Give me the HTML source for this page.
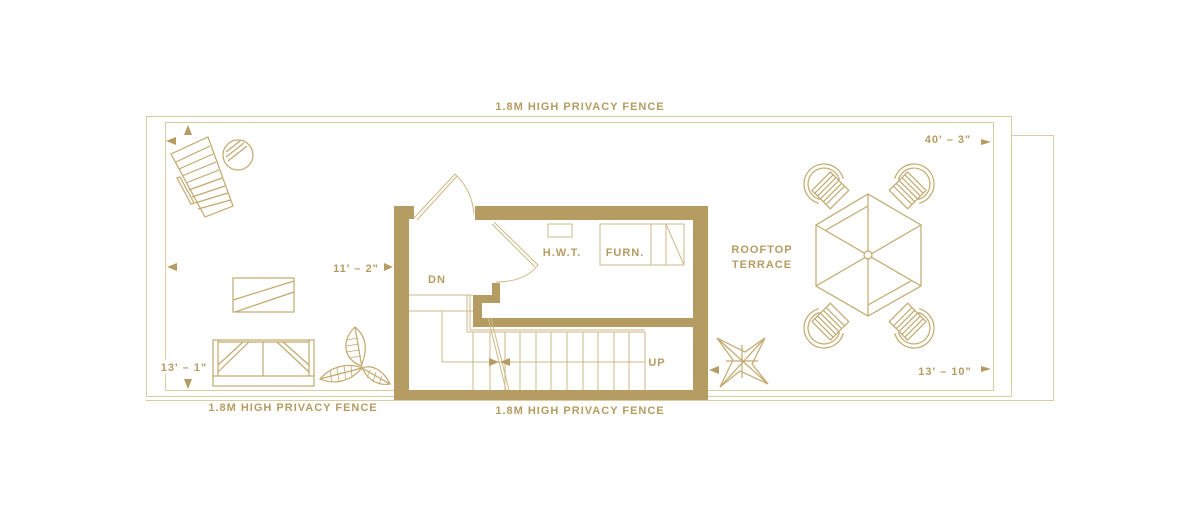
<!DOCTYPE html>
<html><head><style>
html,body{margin:0;padding:0;background:#fff;}
svg{display:block;}
text{font-family:"Liberation Sans",sans-serif;font-weight:bold;fill:#b59c62;font-size:11px;letter-spacing:1px;}
</style></head><body>
<svg width="1200" height="515" viewBox="0 0 1200 515" xmlns="http://www.w3.org/2000/svg">
<defs>
<g id="chair" fill="none" stroke="#c2a96e" stroke-width="1.2">
<path d="M10,-17.3 A20,20 0 1 0 10,17.3"/>
<path d="M8,-13.9 A16,16 0 1 0 8,13.9"/>
<rect x="-4" y="-13" width="26" height="26" fill="#fff"/>
<line x1="0" y1="-13" x2="0" y2="13"/><line x1="4" y1="-13" x2="4" y2="13"/>
<line x1="8" y1="-13" x2="8" y2="13"/><line x1="12" y1="-13" x2="12" y2="13"/>
<line x1="16" y1="-13" x2="16" y2="13"/>
</g>
</defs>
<g fill="none" stroke="#d9cba5" stroke-width="1">
<rect x="146.5" y="116.5" width="865" height="280"/>
<rect x="165.5" y="122.5" width="828" height="268"/>
<polyline points="1012,135.5 1053.5,135.5 1053.5,400.5 1012,400.5"/>
<line x1="146" y1="400.5" x2="1012" y2="400.5"/>
</g>
<g fill="#b59c62">
<rect x="394" y="206" width="15" height="194"/>
<rect x="394" y="206" width="20" height="13"/>
<rect x="475" y="206" width="233" height="14"/>
<rect x="693" y="206" width="15" height="194"/>
<rect x="394" y="390" width="314" height="10"/>
<rect x="473" y="318" width="220" height="9"/>
<rect x="473" y="295" width="9" height="32"/>
<rect x="473" y="295" width="27" height="8"/>
<rect x="492" y="283" width="8" height="20"/>
</g>
<g fill="none" stroke="#cdb987" stroke-width="1">
<line x1="414" y1="218" x2="455" y2="174"/><line x1="417" y1="220" x2="457" y2="176"/>
<path d="M455,174 Q472,190 474,214"/>
<line x1="494" y1="222" x2="538" y2="265"/><line x1="492" y1="224" x2="535" y2="267"/>
<path d="M538,265 Q525,282 496,282"/>
<rect x="548" y="224" width="24" height="13"/>
<rect x="600" y="224" width="84" height="41"/>
<line x1="651" y1="224" x2="651" y2="265"/><line x1="666" y1="224" x2="666" y2="265"/>
<line x1="666" y1="224" x2="684" y2="265"/>
<line x1="409" y1="295" x2="473" y2="295"/>
<line x1="409" y1="311" x2="473" y2="311"/>
<line x1="467" y1="295" x2="467" y2="332"/><line x1="470" y1="295" x2="470" y2="330"/>
<line x1="467" y1="332" x2="645" y2="332"/><line x1="470" y1="330" x2="645" y2="330"/>
<line x1="442" y1="311" x2="442" y2="362"/>
<line x1="442" y1="362" x2="645" y2="362"/>
<line x1="473" y1="332" x2="473" y2="390"/><line x1="490" y1="332" x2="490" y2="390"/>
<line x1="505" y1="332" x2="505" y2="390"/><line x1="520" y1="332" x2="520" y2="390"/>
<line x1="536" y1="332" x2="536" y2="390"/><line x1="551" y1="332" x2="551" y2="390"/>
<line x1="567" y1="332" x2="567" y2="390"/><line x1="583" y1="332" x2="583" y2="390"/>
<line x1="598" y1="332" x2="598" y2="390"/><line x1="614" y1="332" x2="614" y2="390"/>
<line x1="629" y1="332" x2="629" y2="390"/><line x1="645" y1="332" x2="645" y2="390"/>
<line x1="488" y1="318" x2="506" y2="390"/><line x1="491" y1="318" x2="509" y2="390"/>
</g>
<g fill="#b59c62">
<polygon points="489,358 499,362 489,366"/><polygon points="510,358 500,362 510,366"/>
<polygon points="166,141 176,137 176,145"/>
<polygon points="188,125 184,135 192,135"/>
<polygon points="167,267 177,263 177,271"/>
<polygon points="384,263 393,267 384,271"/>
<polygon points="188,389 184,379 192,379"/>
<polygon points="981,139 991,142 981,145"/>
<polygon points="981,366 991,369 981,372"/>
<polygon points="709,370 719,366 719,374"/>
</g>
<g fill="none" stroke="#c2a96e" stroke-width="1.2">
<polygon points="171,154 208,137 233,206 205,217"/>
<line x1="176" y1="162" x2="210" y2="146"/><line x1="179" y1="169" x2="213" y2="154"/>
<line x1="182" y1="176" x2="216" y2="162"/><line x1="186" y1="183" x2="219" y2="170"/>
<line x1="189" y1="190" x2="222" y2="178"/><line x1="192" y1="197" x2="225" y2="186"/>
<line x1="195" y1="203" x2="228" y2="193"/><line x1="198" y1="209" x2="231" y2="200"/>
<polygon points="177,178 180,177 194,203 191,204"/>
<circle cx="238" cy="155" r="15"/>
<line x1="226" y1="152" x2="240" y2="141"/><line x1="226" y1="157" x2="244" y2="143"/><line x1="228" y1="161" x2="247" y2="146"/>
<rect x="233" y="278" width="61" height="34"/>
<line x1="233" y1="300" x2="294" y2="281"/><line x1="235" y1="312" x2="294" y2="292"/>
<rect x="213" y="340" width="101" height="46"/>
<line x1="218" y1="340" x2="218" y2="376"/><line x1="309" y1="340" x2="309" y2="376"/>
<line x1="213" y1="376" x2="314" y2="376"/><line x1="263" y1="342" x2="263" y2="376"/>
<line x1="218" y1="342" x2="309" y2="342"/>
<line x1="218" y1="365" x2="243" y2="342"/><line x1="218" y1="372" x2="249" y2="342"/>
<line x1="309" y1="365" x2="283" y2="342"/><line x1="309" y1="372" x2="277" y2="342"/>
<path d="M355,327 C342,340 342,358 361,366 C368,350 367,337 355,327Z"/>
<path d="M320,379 C332,365 350,363 362,368 C350,382 334,385 320,379Z"/>
<path d="M390,384 C383,370 372,364 362,368 C368,380 378,386 390,384Z"/>
<line x1="355" y1="327" x2="362" y2="368"/><line x1="320" y1="379" x2="362" y2="368"/><line x1="362" y1="368" x2="390" y2="384"/>
<g stroke-width="0.8">
<line x1="347" y1="340" x2="358" y2="338"/><line x1="346" y1="346" x2="359" y2="344"/><line x1="346" y1="352" x2="360" y2="350"/><line x1="349" y1="358" x2="361" y2="356"/>
<line x1="330" y1="370" x2="332" y2="382"/><line x1="337" y1="368" x2="339" y2="382"/><line x1="344" y1="366" x2="346" y2="380"/><line x1="351" y1="365" x2="352" y2="377"/>
<line x1="370" y1="370" x2="367" y2="378"/><line x1="376" y1="372" x2="373" y2="382"/><line x1="382" y1="376" x2="379" y2="384"/>
</g>
<polygon points="868,194 921,225 921,286 868,316 816,286 816,225"/>
<line x1="868" y1="194" x2="868" y2="316"/>
<line x1="816" y1="225" x2="921" y2="286"/><line x1="921" y1="225" x2="816" y2="286"/>
<line x1="826" y1="230" x2="868" y2="206"/><line x1="911" y1="281" x2="868" y2="305"/>
<circle cx="868" cy="255" r="4" fill="#fff"/>
<polygon points="717,338 745,352 765,338 752,364 768,384 740,371 720,387 733,360"/>
<line x1="717" y1="338" x2="768" y2="384"/><line x1="765" y1="338" x2="720" y2="387"/>
<line x1="742" y1="345" x2="742" y2="378"/><line x1="726" y1="361" x2="758" y2="361"/>
</g>
<use href="#chair" transform="translate(824,184) rotate(45)"/>
<use href="#chair" transform="translate(914,184) rotate(135)"/>
<use href="#chair" transform="translate(824,328) rotate(-45)"/>
<use href="#chair" transform="translate(914,328) rotate(-135)"/>
<text x="580" y="110" text-anchor="middle">1.8M HIGH PRIVACY FENCE</text>
<text x="580" y="414" text-anchor="middle">1.8M HIGH PRIVACY FENCE</text>
<text x="293" y="411" text-anchor="middle">1.8M HIGH PRIVACY FENCE</text>
<text x="356" y="272" text-anchor="middle">11' – 2"</text>
<rect x="158" y="360" width="50" height="14" fill="#fff"/>
<text x="184" y="371" text-anchor="middle">13' – 1"</text>
<text x="948" y="143" text-anchor="middle">40' – 3"</text>
<text x="945" y="375" text-anchor="middle">13' – 10"</text>
<text x="437" y="283" text-anchor="middle">DN</text>
<text x="562" y="256" text-anchor="middle">H.W.T.</text>
<text x="625" y="256" text-anchor="middle">FURN.</text>
<text x="657" y="366" text-anchor="middle">UP</text>
<text x="762" y="253" text-anchor="middle">ROOFTOP</text>
<text x="762" y="268" text-anchor="middle">TERRACE</text>
</svg>
</body></html>
